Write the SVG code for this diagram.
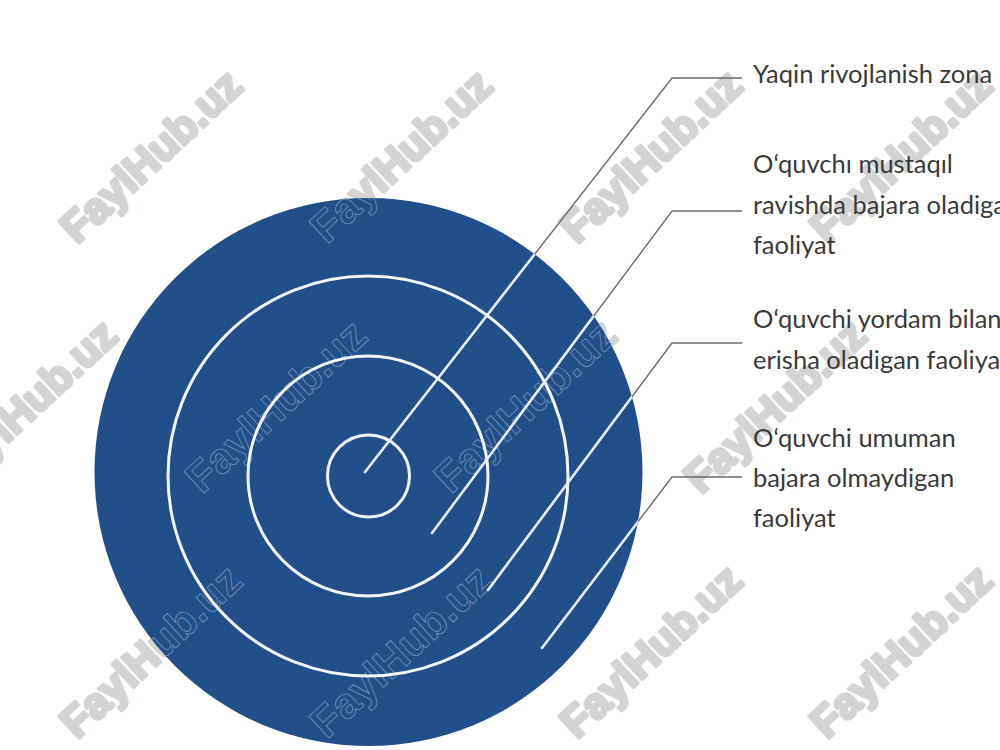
<svg xmlns="http://www.w3.org/2000/svg" width="1000" height="750" viewBox="0 0 1000 750">
  <defs>
    <style>
      .wm { font-family: "Liberation Sans", Arial, sans-serif; font-weight: bold; font-size: 43px; text-anchor: middle; }
      .wmfill { fill: #d4d4d4; stroke: #d4d4d4; stroke-width: 3.5; stroke-linejoin: round; }
      .wmline { fill: none; stroke: #9fb6d3; stroke-width: 0.9; stroke-opacity: 0.6; }
      .ring { fill: none; stroke: #f2f6fb; stroke-width: 3; }
      .lead { fill: none; stroke: #6b6b6b; stroke-width: 1.4; }
      .leadin { fill: none; stroke: #e6eef8; stroke-width: 2.6; stroke-linecap: round; }
      .lbl { font-family: Lato, "Open Sans", sans-serif; font-size: 25.5px; fill: #3a3a3a; }
    </style>
    <clipPath id="disc">
      <circle cx="368.5" cy="472" r="274"/>
    </clipPath>
    <g id="wmset">
      <text class="wm" transform="translate(150 155) rotate(-43)" y="16">FaylHub.uz</text>
      <text class="wm" transform="translate(400 155) rotate(-43)" y="16">FaylHub.uz</text>
      <text class="wm" transform="translate(650 155) rotate(-43)" y="16">FaylHub.uz</text>
      <text class="wm" transform="translate(900 155) rotate(-43)" y="16">FaylHub.uz</text>
      <text class="wm" transform="translate(25 405) rotate(-43)" y="16">FaylHub.uz</text>
      <text class="wm" transform="translate(275 405) rotate(-43)" y="16">FaylHub.uz</text>
      <text class="wm" transform="translate(524 405) rotate(-43)" y="16">FaylHub.uz</text>
      <text class="wm" transform="translate(774 405) rotate(-43)" y="16">FaylHub.uz</text>
      <text class="wm" transform="translate(150 650) rotate(-43)" y="16">FaylHub.uz</text>
      <text class="wm" transform="translate(400 650) rotate(-43)" y="16">FaylHub.uz</text>
      <text class="wm" transform="translate(650 650) rotate(-43)" y="16">FaylHub.uz</text>
      <text class="wm" transform="translate(900 650) rotate(-43)" y="16">FaylHub.uz</text>
    </g>
  </defs>

  <rect x="0" y="0" width="1000" height="750" fill="#ffffff"/>

  <!-- watermark (behind) -->
  <use href="#wmset" class="wmfill"/>

  <!-- target diagram -->
  <g id="target">
    <circle id="outer-disc" cx="368.5" cy="472" r="274" fill="#214f89"/>
    <g clip-path="url(#disc)">
      <use href="#wmset" class="wmline"/>
    </g>
    <circle id="ring-outer" class="ring" cx="368" cy="476" r="200"/>
    <circle id="ring-middle" class="ring" cx="368" cy="476" r="120"/>
    <circle id="ring-inner" class="ring" cx="368.5" cy="476" r="41"/>
  </g>

  <!-- connectors -->
  <g id="connectors">
    <polyline class="lead" points="365,472 672,78 742,78"/>
    <polyline class="lead" points="432,533 672,211 742,211"/>
    <polyline class="lead" points="488,590 672,343 742,343"/>
    <polyline class="lead" points="542,648 672,477 742,477"/>
    <g clip-path="url(#disc)">
      <polyline class="leadin" points="365,472 672,78"/>
      <polyline class="leadin" points="432,533 672,211"/>
      <polyline class="leadin" points="488,590 672,343"/>
      <polyline class="leadin" points="542,648 672,477"/>
    </g>
  </g>

  <g id="label-1">
    <text class="lbl" x="753" y="83">Yaqin rivojlanish zona</text>
  </g>
  <g id="label-2">
    <text class="lbl" x="753" y="173">O‘quvchı mustaqıl</text>
    <text class="lbl" x="753" y="214">ravishda bajara oladigan</text>
    <text class="lbl" x="753" y="254">faoliyat</text>
  </g>
  <g id="label-3">
    <text class="lbl" x="753" y="328">O‘quvchi yordam bilan</text>
    <text class="lbl" x="753" y="369">erisha oladigan faoliyat</text>
  </g>
  <g id="label-4">
    <text class="lbl" x="753" y="447">O‘quvchi umuman</text>
    <text class="lbl" x="753" y="487">bajara olmaydigan</text>
    <text class="lbl" x="753" y="527">faoliyat</text>
  </g>
</svg>
